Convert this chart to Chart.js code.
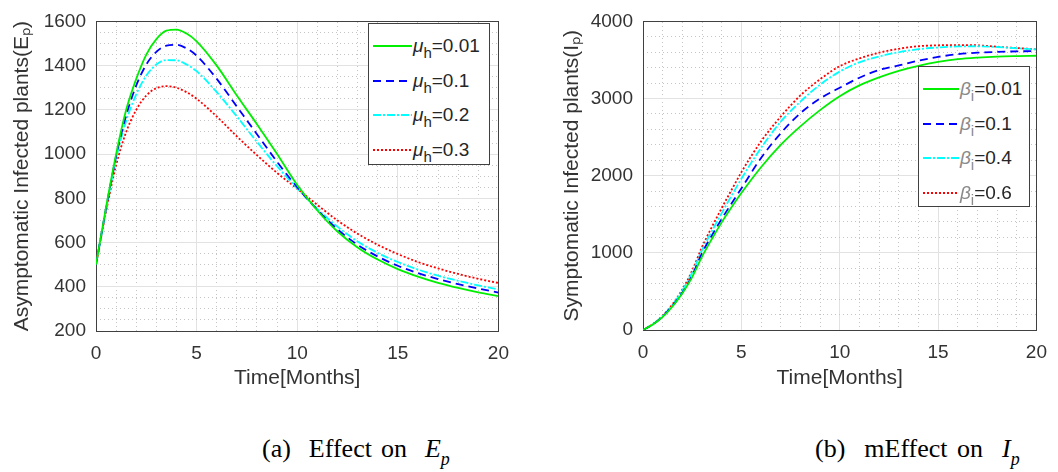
<!DOCTYPE html>
<html lang="en">
<head>
<meta charset="UTF-8">
<title>Effect on Ep and Ip</title>
<script src="https://cdn.jsdelivr.net/npm/chart.js"></script>
<style>
    body {
        margin: 0;
        background: #fff;
        width: 1058px;
        height: 472px;
        position: relative;
        overflow: hidden;
        font-family: 'Liberation Sans', Arial, sans-serif;
    }
    canvas { position: absolute; top: 0; }
    #leftChart { left: 0; }
    #rightChart { left: 550px; }
    .legend {
        position: absolute;
        background: #fff;
        border: 1px solid #404040;
        box-sizing: border-box;
        padding: 5px 0 0 4px;
        color: #262626;
        font-size: 19px;
    }
    .legend .row { height: 34.5px; display: flex; align-items: center; }
    .legend svg { display: block; margin-right: 1px; }
    .legend .sym { font-style: italic; }
    .legend sub { font-size: 15px; vertical-align: -6px; line-height: 0; }
    .legend.beta .sym, .legend.beta sub { color: #8a8a8a; }
    .caption {
        position: absolute;
        top: 436px;
        font-family: 'Liberation Serif', 'Times New Roman', serif;
        font-size: 26px;
        line-height: 26px;
        color: #000;
        white-space: pre;
    }
    .caption sub { font-size: 18px; vertical-align: -8px; line-height: 0; }
</style>
</head>
<body>
<canvas id="leftChart" width="520" height="400"></canvas>
<canvas id="rightChart" width="508" height="400"></canvas>
<div class="legend" id="legendLeft" style="left:368px; top:23px; width:122px; height:142px;"></div>
<div class="legend beta" id="legendRight" style="left:918px; top:66px; width:112px; height:141px;"></div>
<div class="caption" style="left:262px; word-spacing:2.5px;">(a)  Effect on  <i>E<sub>p</sub></i></div>
<div class="caption" style="left:815px; word-spacing:3px;">(b)  mEffect on  <i>I<sub>p</sub></i></div>

<script>
// time in months, shared by both panels
const months = [0, 0.5, 1, 1.5, 2, 2.5, 3, 3.5, 4, 4.5, 5, 6, 7, 8, 9, 10, 11, 12, 13, 14, 15, 16, 17, 18, 19, 20];

// (a) asymptomatic infected plants E_p for several mu_h
const muValues = ['0.01', '0.1', '0.2', '0.3'];
const epMu001 = [500, 760, 1000, 1200, 1340, 1450, 1520, 1558, 1563, 1545, 1510, 1400, 1265, 1135, 1000, 860, 745, 650, 578, 523, 480, 446, 418, 395, 375, 358];
const epMu01  = [500, 755, 990, 1175, 1310, 1405, 1462, 1490, 1494, 1478, 1445, 1340, 1215, 1090, 965, 850, 748, 660, 590, 537, 495, 462, 435, 412, 392, 374];
const epMu02  = [500, 750, 980, 1150, 1270, 1355, 1405, 1425, 1424, 1405, 1375, 1280, 1170, 1055, 945, 845, 752, 672, 605, 553, 512, 478, 450, 427, 406, 388];
const epMu03  = [500, 740, 950, 1100, 1200, 1265, 1298, 1307, 1300, 1280, 1250, 1170, 1080, 995, 915, 843, 770, 700, 640, 590, 548, 512, 483, 458, 436, 417];

// (b) symptomatic infected plants I_p for several beta_i
const betaValues = ['0.01', '0.1', '0.4', '0.6'];
const ipBeta001 = [0, 70, 170, 305, 475, 685, 950, 1180, 1395, 1590, 1775, 2110, 2400, 2640, 2850, 3030, 3170, 3275, 3360, 3425, 3475, 3510, 3530, 3543, 3550, 3555];
const ipBeta01  = [0, 72, 175, 312, 485, 705, 995, 1225, 1440, 1640, 1835, 2230, 2550, 2810, 3000, 3140, 3270, 3370, 3430, 3490, 3540, 3575, 3595, 3605, 3612, 3615];
const ipBeta04  = [0, 75, 183, 325, 510, 745, 1035, 1280, 1515, 1740, 1960, 2360, 2700, 2960, 3180, 3350, 3470, 3545, 3600, 3640, 3662, 3675, 3678, 3668, 3652, 3637];
const ipBeta06  = [0, 76, 188, 335, 525, 770, 1075, 1335, 1580, 1815, 2045, 2445, 2765, 3040, 3250, 3420, 3520, 3595, 3645, 3678, 3690, 3693, 3690, 3672, 3655, 3638];

// axis ticks
const xTicks = { min: 0, max: 20, major: 5, minor: 1 };
const epTicks = { min: 200, max: 1600, major: 200, minor: 50 };
const ipTicks = { min: 0, max: 4000, major: 1000, minor: 200 };

const lineStyles = [
    { color: '#00ee00', dash: [] },
    { color: '#0000ff', dash: [8, 5] },
    { color: '#00ffff', dash: [8, 2, 2, 2] },
    { color: '#ff0000', dash: [2, 2] }
];

const tickFont = { family: "'Liberation Sans', Arial, sans-serif", size: 19 };
const titleFont = { family: "'Liberation Sans', Arial, sans-serif", size: 21 };
const textColor = '#333333';
const axisColor = '#404040';

function toPoints(ys) {
    return ys.map((y, i) => ({ x: months[i], y: y }));
}

function makeDatasets(series) {
    return series.map((ys, i) => ({
        data: toPoints(ys),
        borderColor: lineStyles[i].color,
        borderDash: lineStyles[i].dash,
        borderWidth: 1.8,
        pointRadius: 0,
        fill: false,
        cubicInterpolationMode: 'monotone'
    }));
}

function makeScales(yT, yTitle, yWidth, xHeight) {
    return {
        x: {
            type: 'linear', position: 'bottom', min: xTicks.min, max: xTicks.max,
            ticks: { stepSize: xTicks.major, padding: 11, color: textColor, font: tickFont, callback: v => String(v) },
            grid: { color: '#e2e2e2', drawTicks: false },
            border: { color: axisColor },
            title: { display: true, text: 'Time[Months]', color: textColor, font: titleFont, padding: { top: 0, bottom: 9 } },
            afterFit: s => { s.height = xHeight; }
        },
        xMinor: {
            type: 'linear', position: 'top', min: xTicks.min, max: xTicks.max,
            ticks: { display: false, stepSize: xTicks.minor },
            grid: { drawTicks: false, color: c => (c.tick && c.tick.value % xTicks.major === 0) ? 'rgba(0,0,0,0)' : '#c4c4c4' },
            border: { color: axisColor, dash: [1, 3] },
            afterFit: s => { s.height = 0; }
        },
        y: {
            type: 'linear', position: 'left', min: yT.min, max: yT.max,
            ticks: { stepSize: yT.major, padding: 10, color: textColor, font: tickFont, callback: v => String(v) },
            grid: { color: '#e2e2e2', drawTicks: false },
            border: { color: axisColor },
            title: { display: true, text: yTitle, color: textColor, font: titleFont, padding: { top: 9.5, bottom: 0 } },
            afterFit: s => { s.width = yWidth; }
        },
        yMinor: {
            type: 'linear', position: 'right', min: yT.min, max: yT.max,
            ticks: { display: false, stepSize: yT.minor },
            grid: { drawTicks: false, color: c => (c.tick && c.tick.value % yT.major === 0) ? 'rgba(0,0,0,0)' : '#c4c4c4' },
            border: { color: axisColor, dash: [1, 3] },
            afterFit: s => { s.width = 0; }
        }
    };
}

function baseOptions(scales, pad) {
    return {
        responsive: false,
        animation: false,
        layout: { padding: pad },
        plugins: { legend: { display: false }, tooltip: { enabled: false } },
        scales: scales
    };
}

new Chart(document.getElementById('leftChart'), {
    type: 'line',
    data: { datasets: makeDatasets([epMu001, epMu01, epMu02, epMu03]) },
    options: baseOptions(
        makeScales(epTicks, 'Asymptomatic Infected plants(E\u209A)', 96, 69),
        { left: 0, top: 13, right: 20, bottom: 0 })
});

new Chart(document.getElementById('rightChart'), {
    type: 'line',
    data: { datasets: makeDatasets([ipBeta001, ipBeta01, ipBeta04, ipBeta06]) },
    options: baseOptions(
        makeScales(ipTicks, 'Symptomatic Infected plants(I\u209A)', 93, 70),
        { left: 0, top: 14, right: 21, bottom: 0 })
});

// MATLAB-style legends inside the axes
function buildLegend(el, symbol, sub, values, sampleWidth) {
    el.innerHTML = values.map((v, i) => {
        const st = lineStyles[i];
        return '<div class="row"><svg width="' + sampleWidth + '" height="6">' +
            '<line x1="0" y1="3" x2="' + sampleWidth + '" y2="3" stroke="' + st.color + '" stroke-width="2" stroke-dasharray="' + st.dash.join(' ') + '"/></svg>' +
            '<span><span class="sym">' + symbol + '</span><sub>' + sub + '</sub>=' + v + '</span></div>';
    }).join('');
}
buildLegend(document.getElementById('legendLeft'), '\u03BC', 'h', muValues, 39);
buildLegend(document.getElementById('legendRight'), '\u03B2', 'i', betaValues, 36);
</script>
</body>
</html>
